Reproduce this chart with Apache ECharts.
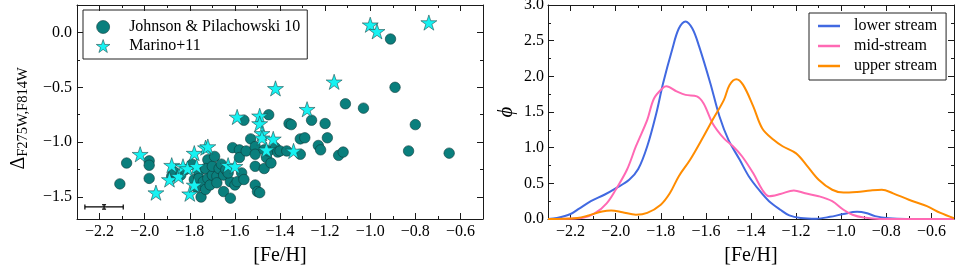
<!DOCTYPE html>
<html><head><meta charset="utf-8">
<script src="https://cdn.jsdelivr.net/npm/echarts@6/dist/echarts.min.js"></script>
<style>html,body{margin:0;padding:0;background:#fff}#c{width:964px;height:268px}</style>
</head><body><div id="c"></div>
<script>
// ---------- data ----------
const jpData = [
[-2.11,-1.38],[-2.08,-1.19],[-1.98,-1.17],[-1.98,-1.21],[-1.98,-1.33],
[-1.88,-1.31],[-1.87,-1.27],[-1.84,-1.30],[-1.82,-1.25],
[-1.79,-1.20],[-1.78,-1.34],[-1.77,-1.41],
[-1.76,-1.27],[-1.76,-1.33],[-1.75,-1.50],[-1.74,-1.36],[-1.73,-1.43],
[-1.72,-1.16],[-1.72,-1.33],[-1.73,-1.24],[-1.71,-1.39],[-1.70,-1.30],[-1.70,-1.22],[-1.69,-1.13],
[-1.68,-1.31],[-1.68,-1.37],[-1.67,-1.24],[-1.66,-1.20],[-1.65,-1.30],[-1.65,-1.45],[-1.64,-1.25],
[-1.62,-1.36],[-1.62,-1.51],[-1.63,-1.28],
[-1.61,-1.05],[-1.60,-1.39],[-1.59,-1.36],[-1.58,-1.07],[-1.58,-1.14],[-1.57,-1.28],[-1.56,-1.34],
[-1.56,-0.80],[-1.55,-1.08],
[-1.53,-0.97],[-1.51,-1.04],[-1.51,-1.11],[-1.51,-1.22],[-1.51,-1.39],[-1.50,-1.45],[-1.49,-1.46],
[-1.47,-1.24],[-1.47,-1.07],[-1.46,-1.14],
[-1.45,-1.08],[-1.45,-0.75],[-1.44,-1.19],[-1.42,-1.05],[-1.41,-1.09],[-1.40,-1.08],[-1.37,-1.08],
[-1.36,-0.83],[-1.35,-0.84],[-1.31,-0.97],[-1.29,-0.96],[-1.31,-1.11],
[-1.26,-0.80],[-1.23,-1.03],[-1.22,-1.07],[-1.20,-0.83],[-1.19,-0.96],[-1.14,-1.12],[-1.12,-1.09],
[-1.11,-0.65],[-1.03,-0.69],[-0.91,-0.06],[-0.89,-0.50],[-0.83,-1.08],[-0.80,-0.84],[-0.65,-1.10]
];
const marinoData = [
[-2.02,-1.11],[-1.95,-1.46],[-1.88,-1.21],[-1.89,-1.34],[-1.85,-1.31],[-1.83,-1.22],[-1.81,-1.24],
[-1.80,-1.47],[-1.78,-1.39],[-1.78,-1.10],[-1.77,-1.22],[-1.73,-1.05],[-1.72,-1.04],[-1.59,-0.77],
[-1.63,-1.21],[-1.60,-1.22],[-1.49,-0.76],[-1.49,-0.83],[-1.48,-0.92],[-1.48,-0.96],[-1.43,-0.97],
[-1.46,-1.07],[-1.42,-0.51],[-1.34,-1.08],[-1.28,-0.70],[-1.16,-0.45],[-1.00,0.07],[-0.97,0.01],[-0.74,0.09]
];
// typical error bar: x, y, xerr, yerr
const errX = [-2.18];
const errY = [-1.59];
const errXErr = [0.085];
const errYErr = [0.02];

const kdeLower = [
[-2.30,0],[-2.26,0.015],[-2.20,0.07],[-2.16,0.15],[-2.11,0.25],[-2.05,0.34],[-2.00,0.43],[-1.94,0.55],
[-1.90,0.70],[-1.86,1.02],[-1.82,1.48],[-1.79,1.90],[-1.75,2.37],[-1.72,2.67],[-1.69,2.77],[-1.66,2.67],
[-1.63,2.42],[-1.58,1.90],[-1.54,1.44],[-1.50,1.11],[-1.45,0.83],[-1.41,0.60],[-1.36,0.39],[-1.32,0.25],
[-1.27,0.13],[-1.23,0.05],[-1.18,0.015],[-1.11,0.005],[-1.05,0.03],[-0.99,0.07],[-0.93,0.10],[-0.89,0.085],
[-0.85,0.04],[-0.79,0.01],[-0.71,0],[-0.50,0]
];
const kdeMid = [
[-2.30,0],[-2.15,0.015],[-2.09,0.085],[-2.04,0.22],[-2.00,0.41],[-1.95,0.69],[-1.91,1.02],[-1.86,1.39],
[-1.83,1.69],[-1.79,1.84],[-1.775,1.86],[-1.73,1.79],[-1.69,1.74],[-1.64,1.72],[-1.61,1.62],[-1.57,1.34],
[-1.52,1.13],[-1.48,1.02],[-1.44,0.88],[-1.39,0.64],[-1.35,0.41],[-1.32,0.32],[-1.27,0.35],[-1.21,0.40],
[-1.16,0.36],[-1.10,0.32],[-1.04,0.25],[-0.99,0.13],[-0.95,0.06],[-0.90,0.02],[-0.83,0],[-0.50,0]
];
const kdeUpper = [
[-2.30,0],[-2.17,0.015],[-2.12,0.05],[-2.06,0.105],[-2.02,0.12],[-1.97,0.095],[-1.91,0.06],[-1.86,0.085],
[-1.80,0.20],[-1.76,0.36],[-1.72,0.60],[-1.67,0.83],[-1.61,1.16],[-1.57,1.39],[-1.52,1.67],[-1.495,1.88],
[-1.465,1.96],[-1.435,1.88],[-1.39,1.58],[-1.35,1.27],[-1.30,1.11],[-1.26,1.02],[-1.20,0.92],[-1.155,0.76],
[-1.10,0.55],[-1.04,0.41],[-0.99,0.37],[-0.93,0.38],[-0.87,0.40],[-0.82,0.41],[-0.77,0.36],[-0.70,0.27],
[-0.62,0.18],[-0.56,0.085],[-0.50,0.01]
];
const xTickLabels = [-2.2,-2.0,-1.8,-1.6,-1.4,-1.2,-1.0,-0.8,-0.6];
const yLeftTickLabels = [-1.5,-1.0,-0.5,0.0];
const yRightTickLabels = [0.0,0.5,1.0,1.5,2.0,2.5,3.0];
const seriesNamesLeft = ['Johnson & Pilachowski 10','Marino+11'];
const seriesNamesRight = ['lower stream','mid-stream','upper stream'];

// ---------- styling ----------
const FONT = '"Liberation Serif", "DejaVu Serif", serif';
const STAR = 'path://M0,-10 L2.245,-3.09 L9.51,-3.09 L3.633,1.18 L5.88,8.09 L0,3.82 L-5.88,8.09 L-3.633,1.18 L-9.51,-3.09 L-2.245,-3.09 Z';
const JP_STYLE = { color: '#0a7f7d', borderColor: '#0d3d3c', borderWidth: 0.6, opacity: 1 };
const MA_STYLE = { color: '#16f2f2', borderColor: '#1f4f4f', borderWidth: 0.6, opacity: 1 };
const KDE_COLORS = ['#4169e1', '#ff69b4', '#ff8c00'];
const fmt = list => v => {
  const hit = list.some(t => Math.abs(t - v) < 1e-6);
  if (!hit) return '';
  const r = Math.round(v * 10) / 10;
  return (r < -1e-9 ? '\u2212' : '') + Math.abs(r).toFixed(1);
};
const frameColor = '#1a1a1a';
function axisBase(extra) {
  return Object.assign({
    type: 'value',
    axisLine: { show: true, onZero: false, lineStyle: { color: frameColor, width: 1 } },
    axisTick: { show: true, inside: true, length: 6, lineStyle: { color: frameColor, width: 1 } },
    minorTick: { show: true, splitNumber: 2, length: 3, lineStyle: { color: frameColor, width: 1 } },
    splitLine: { show: false },
    minorSplitLine: { show: false },
    nameMoveOverlap: false
  }, extra);
}
function xAxes(gi) {
  return [
    axisBase({ gridIndex: gi, position: 'bottom', min: -2.3, max: -0.5, splitNumber: 9,
      axisLabel: { show: true, margin: 5, formatter: fmt(xTickLabels), fontFamily: FONT, fontSize: 16, color: '#000' },
      name: '[Fe/H]', nameLocation: 'middle', nameGap: 27,
      nameTextStyle: { fontFamily: FONT, fontSize: 20, color: '#000' } }),
    axisBase({ gridIndex: gi, position: 'top', min: -2.3, max: -0.5, splitNumber: 9, axisLabel: { show: false } })
  ];
}

const chart = echarts.init(document.getElementById('c'), null, { renderer: 'canvas' });
chart.setOption({
  backgroundColor: '#fff',
  animation: false,
  grid: [
    { left: 77, right: 481, top: 5, bottom: 49, outerBoundsMode: 'none' },
    { left: 548, right: 10, top: 5, bottom: 49, outerBoundsMode: 'none' }
  ],
  xAxis: [...xAxes(0), ...xAxes(1)],
  yAxis: [
    axisBase({ gridIndex: 0, position: 'left', min: -1.7, max: 0.25, splitNumber: 4,
      axisLabel: { show: true, margin: 5, formatter: fmt(yLeftTickLabels), fontFamily: FONT, fontSize: 16, color: '#000' },
      name: '{d|\u0394}{s|F275W,F814W}', nameLocation: 'middle', nameRotate: 90, nameGap: 46,
      nameTextStyle: { color: '#000', lineHeight: 24,
        rich: { d: { fontFamily: FONT, fontSize: 20, color: '#000', verticalAlign: 'middle' },
                s: { fontFamily: FONT, fontSize: 14.5, color: '#000', verticalAlign: 'bottom', padding: [0, 13, 0, 0] } } } }),
    axisBase({ gridIndex: 0, position: 'right', min: -1.7, max: 0.25, splitNumber: 4, axisLabel: { show: false } }),
    axisBase({ gridIndex: 1, position: 'left', min: 0, max: 3, interval: 0.5,
      axisLabel: { show: true, margin: 4, formatter: fmt(yRightTickLabels), fontFamily: FONT, fontSize: 16, color: '#000' },
      name: '\u03D5', nameLocation: 'middle', nameRotate: 90, nameGap: 31,
      nameTextStyle: { fontFamily: FONT, fontSize: 21, fontStyle: 'italic', color: '#000' } }),
    axisBase({ gridIndex: 1, position: 'right', min: 0, max: 3, interval: 0.5, axisLabel: { show: false } })
  ],
  legend: [
    { data: [
        { name: seriesNamesLeft[0], icon: 'circle', itemStyle: JP_STYLE },
        { name: seriesNamesLeft[1], icon: STAR, itemStyle: MA_STYLE }
      ],
      orient: 'vertical', left: 83, top: 10, padding: [9, 7, 5, 13],
      itemWidth: 30, itemHeight: 13, itemGap: 3, borderColor: '#222', borderWidth: 1,
      selectedMode: false,
      textStyle: { fontFamily: FONT, fontSize: 16, color: '#000', padding: [0, 0, 0, 6] } },
    { data: seriesNamesRight.map((n, i) => ({ name: n, icon: 'rect', itemStyle: { color: KDE_COLORS[i] } })),
      orient: 'vertical', left: 809, top: 13, padding: [5, 9, 6, 9],
      itemWidth: 22, itemHeight: 2.5, itemGap: 4, borderColor: '#222', borderWidth: 1,
      selectedMode: false,
      textStyle: { fontFamily: FONT, fontSize: 16, color: '#000', padding: [0, 0, 0, 9] } }
  ],
  series: [
    { name: seriesNamesLeft[0], type: 'scatter', xAxisIndex: 0, yAxisIndex: 0, data: jpData,
      symbol: 'circle', symbolSize: 10.5, itemStyle: JP_STYLE },
    { name: seriesNamesLeft[1], type: 'scatter', xAxisIndex: 0, yAxisIndex: 0, data: marinoData,
      symbol: STAR, symbolSize: 16, symbolKeepAspect: true, itemStyle: MA_STYLE },
    { name: 'err', type: 'custom', xAxisIndex: 0, yAxisIndex: 0,
      data: errX.map((x, i) => [x, errY[i], errXErr[i], errYErr[i]]),
      renderItem: (params, api) => {
        const x = api.value(0), y = api.value(1), xe = api.value(2), ye = api.value(3);
        const l = api.coord([x - xe, y]), r = api.coord([x + xe, y]);
        const t = api.coord([x, y + ye]), b = api.coord([x, y - ye]);
        const st = { stroke: '#000', lineWidth: 1.2 };
        const ln = (x1, y1, x2, y2) => ({ type: 'line', shape: { x1, y1, x2, y2 }, style: st });
        return { type: 'group', children: [
          ln(l[0], l[1], r[0], r[1]),
          ln(l[0], l[1] - 2.5, l[0], l[1] + 2.5),
          ln(r[0], r[1] - 2.5, r[0], r[1] + 2.5),
          ln(t[0], t[1], b[0], b[1]),
          ln(t[0] - 2, t[1], t[0] + 2, t[1]),
          ln(b[0] - 2, b[1], b[0] + 2, b[1])
        ] };
      } },
    ...[kdeLower, kdeMid, kdeUpper].map((d, i) => ({
      name: seriesNamesRight[i], type: 'line', xAxisIndex: 2, yAxisIndex: 2, data: d,
      smooth: 0.35, symbol: 'none', showSymbol: false, color: KDE_COLORS[i],
      lineStyle: { color: KDE_COLORS[i], width: 2 }
    }))
  ]
});
</script></body></html>
